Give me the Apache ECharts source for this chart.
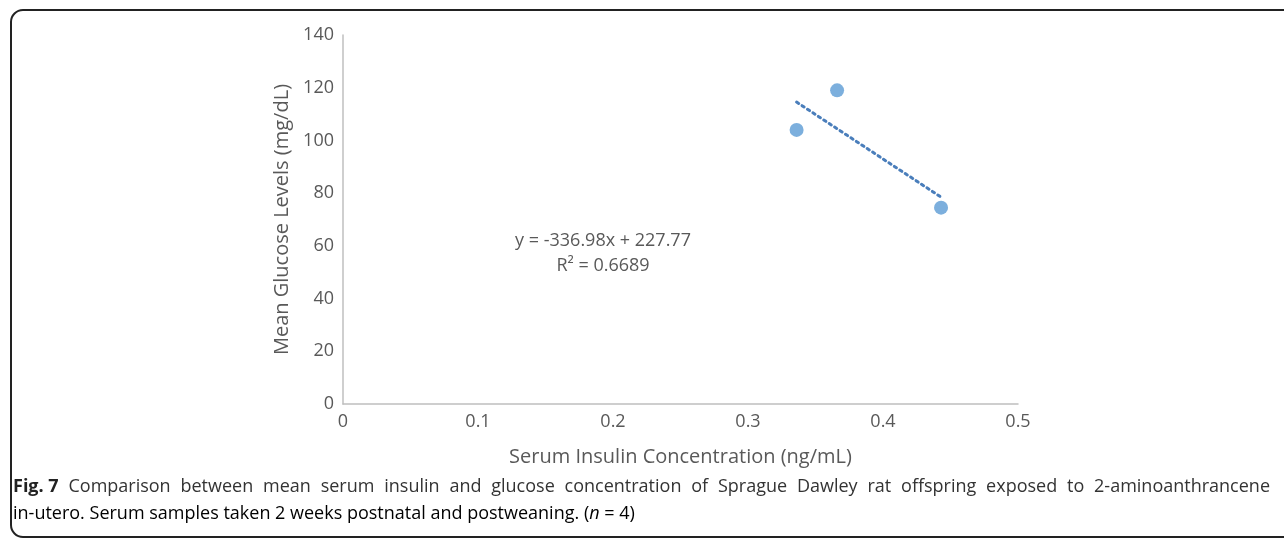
<!DOCTYPE html>
<html>
<head>
<meta charset="utf-8">
<script src="https://cdn.jsdelivr.net/npm/echarts@6/dist/echarts.min.js"></script>
<style>
html,body{margin:0;padding:0;background:#fff;}
#c{width:1284px;height:540px;}
</style>
</head>
<body>
<div id="c"></div>
<script>
const insulin = [0.336, 0.366, 0.443];
const glucose = [104, 119, 74.5];
const trendSlope = -336.98;
const trendIntercept = 227.77;
const xTicks = [0, 0.1, 0.2, 0.3, 0.4, 0.5];
const yTicks = [0, 20, 40, 60, 80, 100, 120, 140];
const xTitle = 'Serum Insulin Concentration (ng/mL)';
const yTitle = 'Mean Glucose Levels (mg/dL)';
const eqLine1 = 'y = -336.98x + 227.77';
const eqLine2 = 'R² = 0.6689';
const captionBold = 'Fig. 7';
const captionLine1 = 'Comparison between mean serum insulin and glucose concentration of Sprague Dawley rat offspring exposed to 2-aminoanthrancene';
const captionLine2 = 'in-utero. Serum samples taken 2 weeks postnatal and postweaning. (';
const captionN = 'n';
const captionEnd = ' = 4)';

const xMin = Math.min(...insulin), xMax = Math.max(...insulin);
const trend = [[xMin, trendIntercept + trendSlope * xMin], [xMax, trendIntercept + trendSlope * xMax]];
const pts = insulin.map((x, i) => [x, glucose[i]]);

const gray = '#595959';
const capColor = '#333333';
const font = '"Open Sans", "Noto Sans", sans-serif';
const capSize = 18;

// justified caption first line
const cv = document.createElement('canvas').getContext('2d');
function w(t, bold) { cv.font = (bold ? 'bold ' : '') + capSize + 'px ' + font; return cv.measureText(t).width; }
const capLeft = 13, capRight = 1270;
const words = [{t: captionBold, b: true}].concat(captionLine1.split(' ').map(t => ({t, b: false})));
const totalW = words.reduce((s, o) => s + w(o.t, o.b), 0);
const gap = (capRight - capLeft - totalW) / (words.length - 1);
const capGraphics = [];
let cx = capLeft;
words.forEach(o => {
  capGraphics.push({type: 'text', x: cx, y: 487, style: {
    text: o.t, fill: o.b ? '#222' : capColor,
    font: (o.b ? 'bold ' : '') + capSize + 'px ' + font,
    textVerticalAlign: 'middle'
  }});
  cx += w(o.t, o.b) + gap;
});

const chart = echarts.init(document.getElementById('c'), null, {renderer: 'canvas'});
chart.setOption({
  animation: false,
  textStyle: {fontFamily: font},
  grid: {left: 343, top: 35, right: 266, bottom: 136, containLabel: false},
  xAxis: {
    type: 'value', min: 0, max: 0.5, interval: 0.1,
    name: xTitle, nameLocation: 'middle', nameGap: 43,
    nameTextStyle: {color: gray, fontSize: 20, fontFamily: font},
    axisLine: {show: true, lineStyle: {color: '#bfbfbf', width: 1.5}},
    axisTick: {show: false},
    splitLine: {show: false},
    axisLabel: {color: gray, fontSize: 18, margin: 9, formatter: v => String(+v.toFixed(1))}
  },
  yAxis: {
    type: 'value', min: 0, max: 140, interval: 20,
    name: yTitle, nameLocation: 'middle', nameGap: 46,
    nameTextStyle: {color: gray, fontSize: 20, fontFamily: font},
    axisLine: {show: true, lineStyle: {color: '#bfbfbf', width: 1.5}},
    axisTick: {show: false},
    splitLine: {show: false},
    axisLabel: {color: gray, fontSize: 18, margin: 9}
  },
  series: [
    {
      type: 'line', data: trend, showSymbol: false, symbol: 'none',
      lineStyle: {color: '#4a7ebb', width: 3, type: [2.5, 4], cap: 'round'},
      z: 2
    },
    {
      type: 'scatter', data: pts, symbol: 'circle', symbolSize: 14,
      itemStyle: {color: '#5b9bd5'}, z: 3
    }
  ],
  graphic: [
    {type: 'rect', shape: {x: 11, y: 10, width: 1300, height: 527, r: 12}, style: {fill: 'none', stroke: '#222', lineWidth: 2}, z: 0, silent: true},
    {type: 'text', x: 603, y: 241, style: {text: eqLine1, fill: gray, font: '18px ' + font, textAlign: 'center', textVerticalAlign: 'middle'}},
    {type: 'text', x: 603, y: 266, style: {text: eqLine2, fill: gray, font: '18px ' + font, textAlign: 'center', textVerticalAlign: 'middle'}},
    {type: 'text', x: capLeft, y: 514, style: {
      text: '{r|' + captionLine2 + '}{i|' + captionN + '}{r|' + captionEnd + '}',
      textVerticalAlign: 'middle',
      rich: {
        r: {fontFamily: font, fontSize: capSize, color: capColor},
        i: {fontFamily: font, fontSize: capSize, fontStyle: 'italic', color: capColor}
      }
    }}
  ].concat(capGraphics)
});
</script>
</body>
</html>
